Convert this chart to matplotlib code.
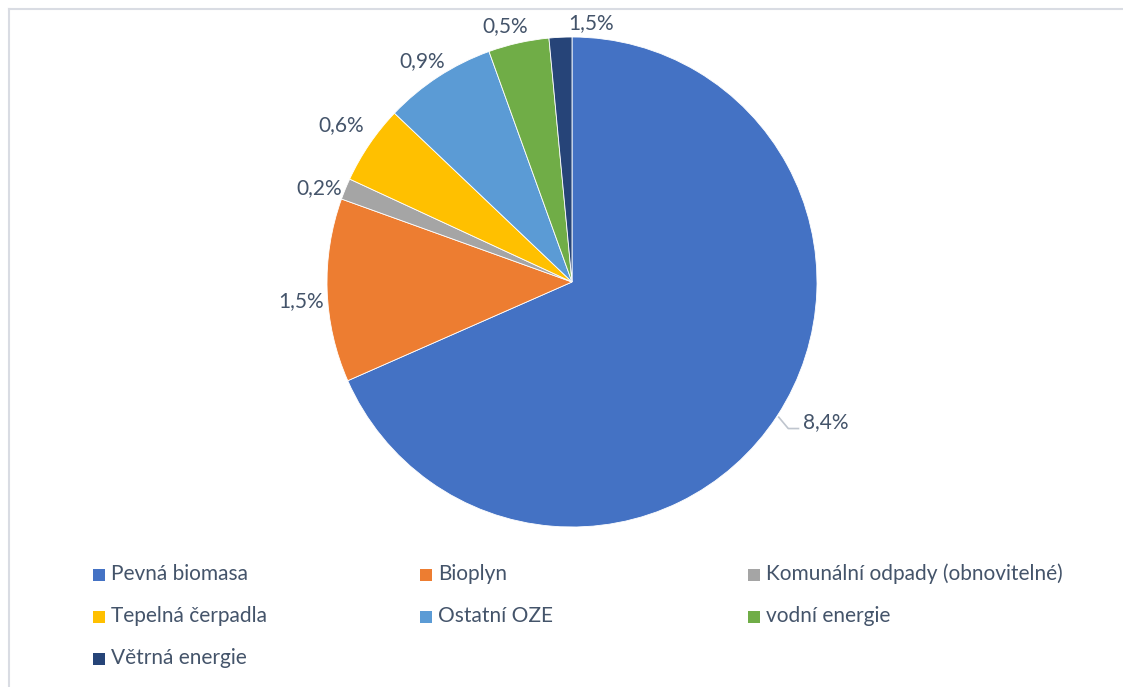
import numpy as np
import matplotlib
matplotlib.use("Agg")
import matplotlib.pyplot as plt
from matplotlib.patches import Rectangle
from matplotlib.lines import Line2D

categories = ["Pevná biomasa", "Bioplyn", "Komunální odpady (obnovitelné)",
              "Tepelná čerpadla", "Ostatní OZE", "vodní energie", "Větrná energie"]
shares = [68.4, 12.1, 1.4, 5.2, 7.4, 4.0, 1.5]   # slice sizes
label_texts = ["8,4%", "1,5%", "0,2%", "0,6%", "0,9%", "0,5%", "1,5%"]
colors = ["#4472C4", "#ED7D31", "#A5A5A5", "#FFC000", "#5B9BD5", "#70AD47", "#264478"]

TXT = "#44546A"
FONT = ["Lato", "DejaVu Sans"]
plt.rcParams["font.family"] = FONT
FS = 15

W, H = 1123, 687
fig = plt.figure(figsize=(W / 100, H / 100), dpi=100)

cx, cy, R = 572, 282, 245
ax = fig.add_axes([(cx - R) / W, (H - cy - R) / H, 2 * R / W, 2 * R / H])
wedges, _ = ax.pie(shares, colors=colors, startangle=90, counterclock=False,
                   radius=1.0, wedgeprops=dict(linewidth=0.6, edgecolor="white"))
ax.set_xlim(-1, 1)
ax.set_ylim(-1, 1)
ax.set_aspect("equal")
ax.axis("off")

# label placement (style): distance and angular nudge per label
dists = [1.12, 1.11, 1.10, 1.14, 1.09, 1.08, 1.06]
nudges = [0, 2, 2, 0, 1, 2, -7]
for i, (w, lab) in enumerate(zip(wedges, label_texts)):
    mid = (w.theta1 + w.theta2) / 2 + nudges[i]
    a = np.deg2rad(mid)
    if i == 0:
        p0 = np.array([np.cos(a), np.sin(a)]) * 1.005
        p1 = p0 + np.array([0.041, -0.049])
        p2 = p1 + np.array([0.045, 0.0])
        ax.plot([p0[0], p1[0], p2[0]], [p0[1], p1[1], p2[1]], color="#BFC5CE",
                lw=1.2, clip_on=False, solid_capstyle="butt")
        ax.text(p2[0] + 0.016, p2[1] + 0.028, lab, ha="left", va="center",
                fontsize=FS, color=TXT, clip_on=False)
    else:
        x, y = dists[i] * np.cos(a), dists[i] * np.sin(a)
        ax.text(x, y, lab, ha="center", va="center", fontsize=FS, color=TXT, clip_on=False)

# legend laid out in rows like the original
col_x = [99, 426, 754]
row_y = [575, 617, 659]
sq = 12
for i, (c, name) in enumerate(zip(colors, categories)):
    r, k = divmod(i, 3)
    x0, y0 = col_x[k], row_y[r]
    fig.patches.append(Rectangle(((x0 - sq / 2) / W, (H - y0 - sq / 2) / H), sq / W, sq / H,
                                 transform=fig.transFigure, facecolor=c, edgecolor="none"))
    fig.text((x0 + 12) / W, (H - y0 + 1) / H, name, ha="left", va="center",
             fontsize=FS, color=TXT)

# chart frame (left and top edges visible)
fig.lines.append(Line2D([9 / W, 9 / W], [0, 1 - 9 / H], transform=fig.transFigure,
                        color="#D9DCE3", lw=1.5))
fig.lines.append(Line2D([9 / W, 1], [1 - 9 / H, 1 - 9 / H], transform=fig.transFigure,
                        color="#D9DCE3", lw=1.5))

fig.savefig("out.png", dpi=100, facecolor="white")
